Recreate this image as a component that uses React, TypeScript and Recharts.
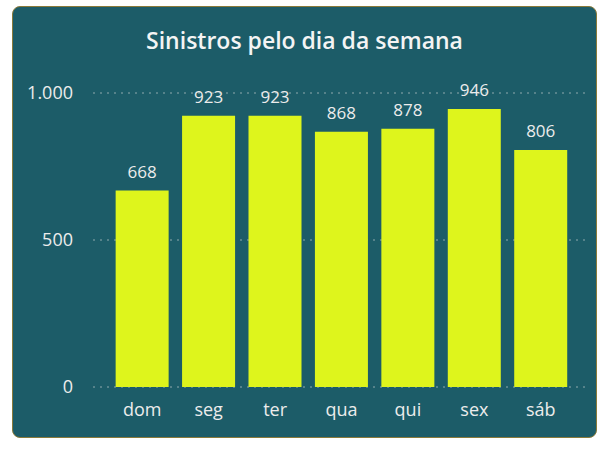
import React from 'react';
import { BarChart, Bar, XAxis, YAxis, CartesianGrid, LabelList } from 'recharts';

const dias = ['dom', 'seg', 'ter', 'qua', 'qui', 'sex', 'sáb'];
const sinistros = [668, 923, 923, 868, 878, 946, 806];
const yTicks = [0, 500, 1000];

const data = dias.map((dia, i) => ({ dia, sinistros: sinistros[i] }));

const fmt = (v: number) => v.toLocaleString('pt-BR');

const App: React.FC = () => {
  return (
    <div style={{ position: 'fixed', left: 0, top: 0, width: 606, height: 450, background: '#ffffff' }}>
      <div
        style={{
          position: 'absolute',
          left: 12,
          top: 6,
          width: 585,
          height: 432,
          background: '#1c5c68',
          borderRadius: 8,
          border: '1px solid #8a7a3a',
          boxSizing: 'border-box',
          overflow: 'hidden',
        }}
      >
        <div
          style={{
            position: 'absolute',
            top: 17,
            width: '100%',
            textAlign: 'center',
            color: '#f4f4f4',
            fontFamily: '"Open Sans", sans-serif',
            fontWeight: 600,
            fontSize: 23,
          }}
        >
          Sinistros pelo dia da semana
        </div>
        <BarChart
          width={583}
          height={430}
          data={data}
          margin={{ top: 86, right: 6, bottom: 16, left: 0 }}
          barCategoryGap="10%"
          style={{ position: 'absolute', left: 0, top: 0 }}
        >
          <CartesianGrid vertical={false} stroke="#8fa9ad" strokeDasharray="2 5" />
          <XAxis
            dataKey="dia"
            axisLine={false}
            tickLine={false}
            padding={{ left: 16, right: 16 }}
            tick={{ fill: '#ececec', fontSize: 18, fontFamily: '"Open Sans", sans-serif' }}
            tickMargin={10}
            height={34}
          />
          <YAxis
            domain={[0, 1000]}
            ticks={yTicks}
            axisLine={false}
            tickLine={false}
            width={80}
            tickFormatter={fmt}
            tick={{ fill: '#ececec', fontSize: 18, fontFamily: '"Open Sans", sans-serif' }}
            tickMargin={14}
          />
          <Bar dataKey="sinistros" fill="#def51c" isAnimationActive={false}>
            <LabelList
              dataKey="sinistros"
              position="top"
              offset={13}
              fill="#ececec"
              fontSize={17}
              fontFamily='"Open Sans", sans-serif'
            />
          </Bar>
        </BarChart>
      </div>
    </div>
  );
};

export default App;
